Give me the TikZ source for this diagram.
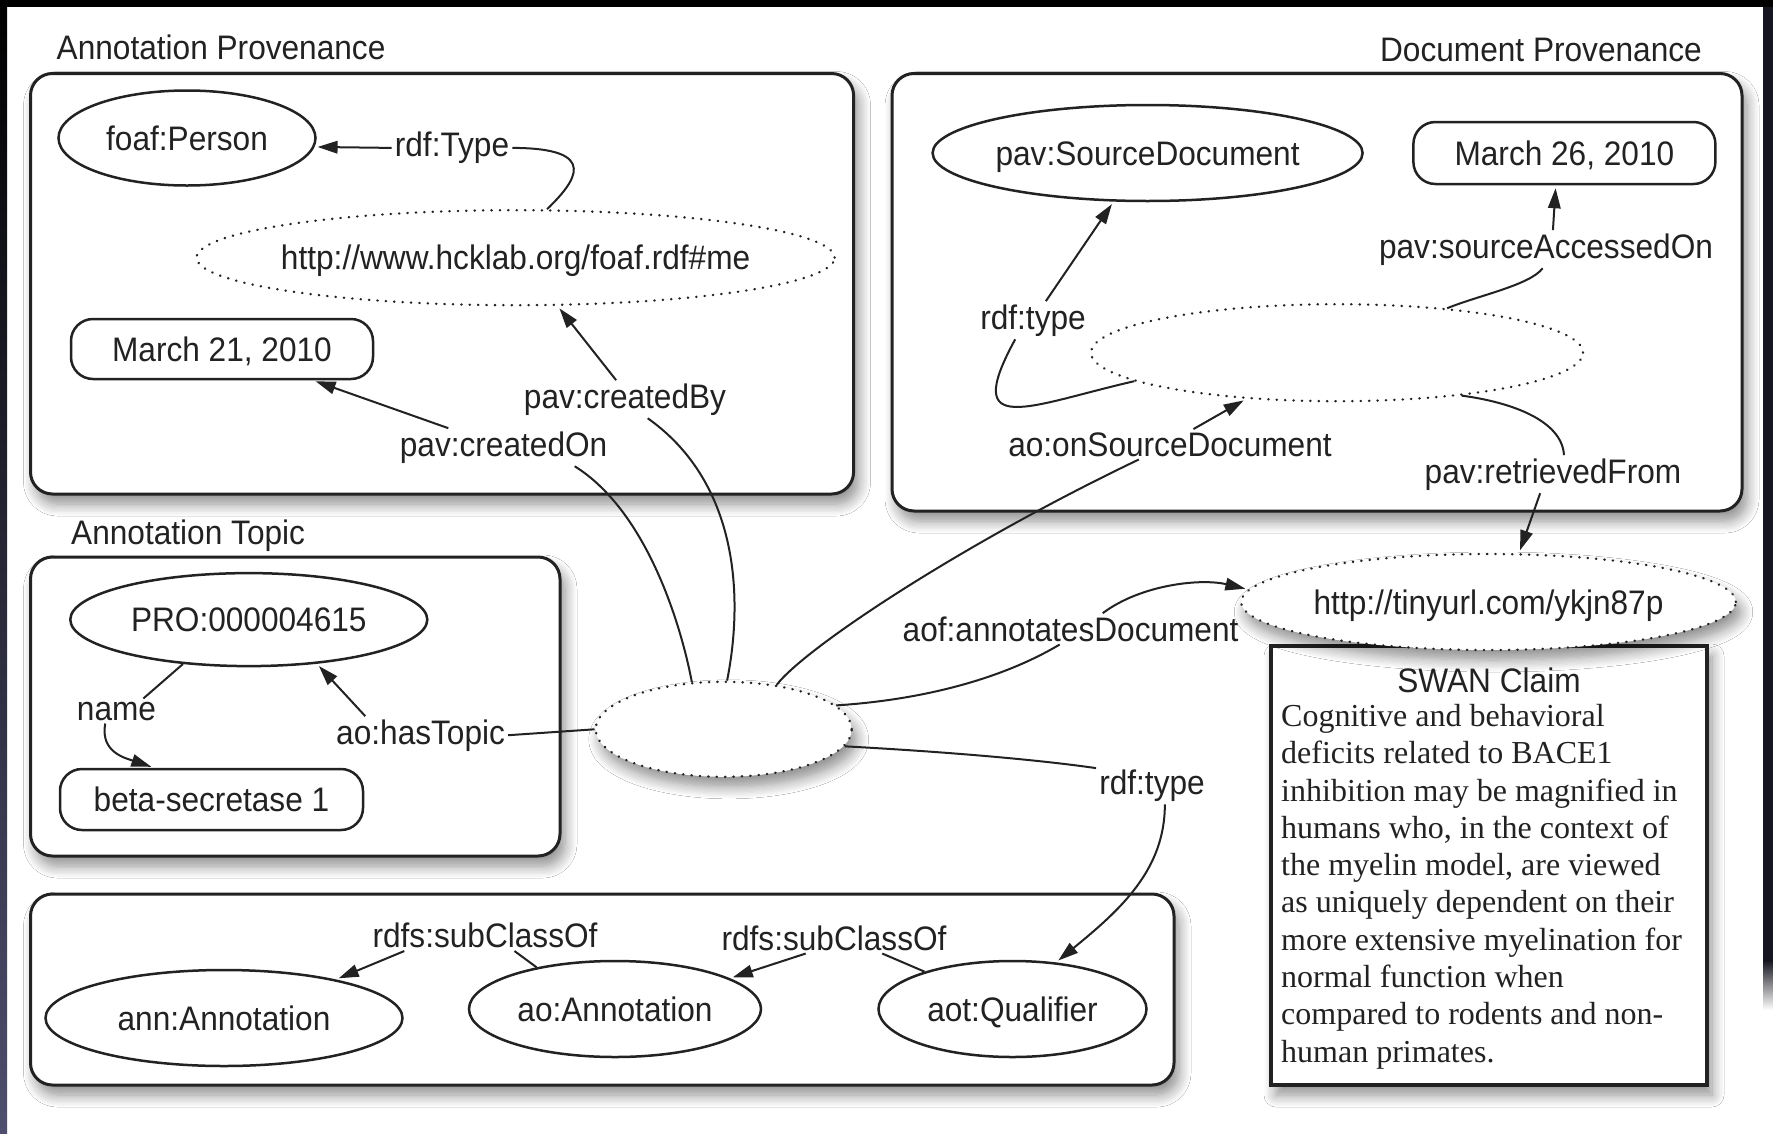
\documentclass[tikz,border=0pt]{standalone}
\usepackage{fontspec}
\newfontfamily\lab{Liberation Sans}[FakeStretch=0.93]
\newfontfamily\claimfont{Liberation Serif}
\usetikzlibrary{shapes.geometric,arrows.meta,shadows.blur}
\definecolor{ink}{HTML}{222222}
\definecolor{slate}{HTML}{4E4E6E}
\definecolor{navy}{HTML}{15151F}
\begin{document}
\begin{tikzpicture}[x=1pt,y=-1pt,
  ln/.style={line width=2pt, draw=ink},
  arr/.style={ln, -{Triangle[length=20pt,width=12.5pt]}, shorten >=3pt},
  lbl/.style={font=\lab\fontsize{34}{40}\selectfont, text=ink, inner sep=3pt, anchor=base},
  ttl/.style={font=\lab\fontsize{34}{40}\selectfont, text=ink, inner sep=0pt},
  fshadow/.style={blur shadow={shadow xshift=5pt, shadow yshift=-10pt, shadow blur radius=12pt, shadow blur steps=10, shadow opacity=45}},
  frame/.style={line width=3pt, draw=ink, fill=white, rounded corners=22pt, fshadow},
  nodefont/.style={font=\lab\fontsize{34}{40}\selectfont, text=ink, text height=24pt, text depth=0pt, inner sep=0pt},
  solidell/.style={ellipse, draw=ink, line width=2.5pt, fill=white, nodefont},
  dotell/.style={ellipse, draw=ink, line width=2.4pt, line cap=round, dash pattern=on 0.4pt off 8pt, fill=white, nodefont},
  pill/.style={rectangle, rounded corners=22pt, draw=ink, line width=2.5pt, fill=white, nodefont},
]
\useasboundingbox (0,0) rectangle (1773,1133);
% background
\fill[white] (0,0) rectangle (1773,1133);
\shade[top color=black, bottom color=slate] (0,0) rectangle (7,1133);
\fill[navy] (1763,0) rectangle (1773,960);
\shade[top color=navy, bottom color=white] (1763,960) rectangle (1773,1010);
\fill[black] (0,0) rectangle (1773,7);

% frames
\draw[frame] (30.5,73.5) rectangle (853.6,494);
\node[font=\lab\fontsize{20}{22}\selectfont, text=white, anchor=base west, inner sep=0pt] (te) at (872,430) {Te};
\draw[frame] (892,73.5) rectangle (1742,511);
\draw[frame] (30.5,557) rectangle (560,856);
\draw[frame] (30.5,894) rectangle (1174,1085);
\draw[line width=3.5pt, draw=ink, fill=white, fshadow] (1271,646) rectangle (1707,1085);

% titles
\node[ttl, anchor=base west] (tAP) at (56.5,59) {Annotation Provenance};
\node[ttl, anchor=base east] (tDP) at (1702,61) {Document Provenance};
\node[ttl, anchor=base west] (tAT) at (71,544) {Annotation Topic};

% nodes
\node[solidell, minimum width=257pt, minimum height=95pt] (foaf) at (187,138) {foaf:Person};
\node[dotell, minimum width=638pt, minimum height=95pt] (hck) at (515.6,257.7) {\makebox[0pt]{http://www.hcklab.org/foaf.rdf\#me}};
\node[pill, minimum width=302pt, minimum height=60pt] (m21) at (222,349) {March 21, 2010};
\node[solidell, minimum width=357pt, minimum height=93pt] (pro) at (248.8,619.6) {PRO:000004615};
\node[pill, minimum width=303pt, minimum height=61pt] (beta) at (211.5,799.5) {beta-secretase 1};
\node[dotell, fshadow, minimum width=256pt, minimum height=95pt] (cen) at (723.7,729.3) {};
\node[solidell, minimum width=430pt, minimum height=96pt] (src) at (1147.6,153) {\makebox[0pt]{pav:SourceDocument}};
\node[pill, minimum width=302pt, minimum height=62pt] (m26) at (1564.4,153) {March 26, 2010};
\node[dotell, minimum width=492pt, minimum height=97pt] (dan) at (1337,352.7) {};
\node[dotell, fshadow, minimum width=494pt, minimum height=96pt] (tiny) at (1488.5,602) {http://tinyurl.com/ykjn87p};
\node[solidell, minimum width=357pt, minimum height=96pt] (annA) at (224,1018) {ann:Annotation};
\node[solidell, minimum width=292pt, minimum height=96pt] (aoA) at (615,1009) {ao:Annotation};
\node[solidell, minimum width=268pt, minimum height=96pt] (aot) at (1012.5,1009) {aot:Qualifier};

% SWAN claim text
\node[ttl, anchor=base] (swanT) at (1489,692) {SWAN Claim};
\node[anchor=north west, inner sep=0pt, align=left, text=ink,
      font=\claimfont\fontsize{32}{37.3}\selectfont] (claim) at (1281,704)
  {Cognitive and behavioral\\deficits related to BACE1\\inhibition may be magnified in\\humans who, in the context of\\the myelin model, are viewed\\as uniquely dependent on their\\more extensive myelination for\\normal function when\\compared to rodents and non-\\human primates.};

% edge labels
\node[lbl] (lType) at (452,156.7) {rdf:Type};
\node[lbl] (lBy) at (625,408) {pav:createdBy};
\node[lbl] (lOn) at (503.6,456) {pav:createdOn};
\node[lbl] (lTopic) at (420.6,744) {ao:hasTopic};
\node[lbl] (lName) at (116.5,720) {name};
\node[lbl] (lT2) at (1033,329) {rdf:type};
\node[lbl] (lSA) at (1546,258) {pav:sourceAccessedOn};
\node[lbl] (lOSD) at (1170,456) {ao:onSourceDocument};
\node[lbl] (lRF) at (1553,483) {pav:retrievedFrom};
\node[lbl] (lAD) at (1070.6,641) {aof:annotatesDocument};
\node[lbl] (lT3) at (1152,794) {rdf:type};
\node[lbl] (lSC1) at (485,947.5) {rdfs:subClassOf};
\node[lbl] (lSC2) at (834,950) {rdfs:subClassOf};

% connectors
\draw[ln] (hck.57) .. controls (575,182) and (602,148) .. (lType.east);
\draw[arr] (lType.west) -- (foaf.-4);
\draw[ln] (cen.86) .. controls (745,590) and (735,480) .. (lBy.-40);
\draw[arr] (lBy.115) -- (hck.-49);
\draw[ln] (cen.124) .. controls (680,620) and (645,510) .. (lOn.-15);
\draw[arr] (lOn.161) -- (m21.-19);
\draw[ln] (cen.40) .. controls (805,648) and (960,545) .. (lOSD.-154);
\draw[arr] (lOSD.33) -- (dan.-153);
\draw[ln] (dan.188) .. controls (1030,405) and (960,440) .. (lT2.-133);
\draw[arr] (lT2.56) -- (src.-125);
\draw[ln] (dan.22) .. controls (1480,295) and (1530,285) .. (lSA.-100);
\draw[arr] (lSA.70) -- (m26.-105);
\draw[ln] (dan.-19) .. controls (1510,402) and (1562,420) .. (lRF.60);
\draw[arr] (lRF.-124) -- (tiny.58);
\draw[ln] (cen.12) .. controls (920,700) and (1000,680) .. (lAD.-125);
\draw[arr] (lAD.26) .. controls (1140,585) and (1200,578) .. (tiny.177);
\draw[ln] (cen.-8) .. controls (950,752) and (1040,760) .. (lT3.163);
\draw[arr] (lT3.-56) .. controls (1165,870) and (1120,910) .. (aot.47);
\draw[ln] (cen.180) -- (lTopic.east);
\draw[arr] (lTopic.161) -- (pro.-33);
\draw[ln] (pro.-146) -- (lName.25);
\draw[arr] (lName.-132) .. controls (100,752) and (125,758) .. (beta.151);
\draw[ln] (aoA.152) -- (lSC1.-28);
\draw[arr] (lSC1.-169) -- (annA.19);
\draw[ln] (aot.157) -- (lSC2.-18);
\draw[arr] (lSC2.-151) -- (aoA.15);
\end{tikzpicture}
\end{document}
